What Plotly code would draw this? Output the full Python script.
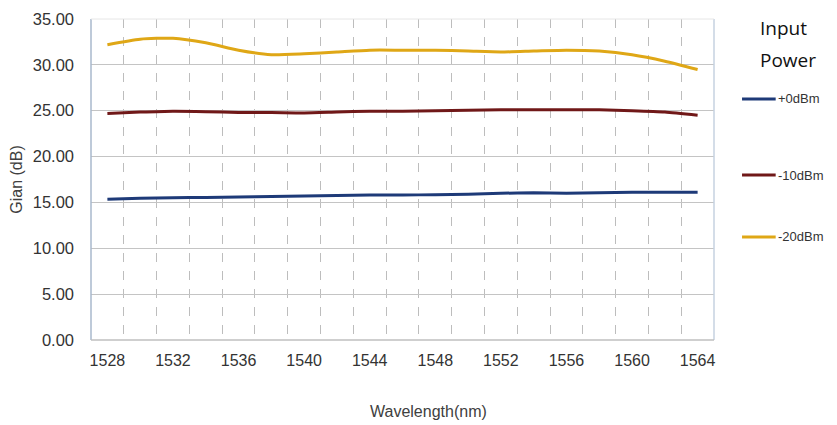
import plotly.graph_objects as go

wavelengths = [1528, 1530, 1532, 1534, 1536, 1538, 1540, 1542, 1544, 1546,
               1548, 1550, 1552, 1554, 1556, 1558, 1560, 1562, 1564]
gain_p0 = [15.35, 15.45, 15.5, 15.55, 15.6, 15.65, 15.7, 15.75, 15.8, 15.8,
           15.85, 15.9, 16.0, 16.05, 16.0, 16.05, 16.1, 16.1, 16.1]
gain_m10 = [24.7, 24.85, 24.95, 24.9, 24.8, 24.8, 24.75, 24.85, 24.95, 24.95,
            25.0, 25.05, 25.1, 25.1, 25.1, 25.1, 25.0, 24.85, 24.5]
gain_m20 = [32.2, 32.8, 32.9, 32.4, 31.6, 31.1, 31.2, 31.4, 31.6, 31.6,
            31.6, 31.5, 31.4, 31.5, 31.6, 31.5, 31.1, 30.4, 29.5]
series_names = ["+0dBm", "-10dBm", "-20dBm"]
series_colors = ["#1E3A78", "#701818", "#DFA716"]
x_tick_vals = [1528, 1532, 1536, 1540, 1544, 1548, 1552, 1556, 1560, 1564]
y_tick_vals = [0, 5, 10, 15, 20, 25, 30, 35]

fig = go.Figure()
for name, vals, col in zip(series_names, [gain_p0, gain_m10, gain_m20], series_colors):
    fig.add_trace(go.Scatter(x=wavelengths, y=vals, mode="lines", name=name,
                             line=dict(color=col, width=3, shape="spline", smoothing=0.6),
                             showlegend=False))

font_main = "Liberation Sans, Arial, sans-serif"
fig.update_layout(
    width=829, height=417,
    margin=dict(l=83, r=123, t=11, b=85),
    paper_bgcolor="white", plot_bgcolor="white",
    font=dict(family=font_main, color="#404040", size=16),
    xaxis=dict(range=[1527, 1565], tickmode="array", tickvals=x_tick_vals,
               ticktext=[str(v) for v in x_tick_vals], showgrid=False,
               showline=False, zeroline=False, ticks="", ticklabelstandoff=9,
               automargin=False,
               tickfont=dict(size=16, color="#333333"),
               minor=dict(tickmode="linear", tick0=1529, dtick=2, showgrid=True,
                          griddash="dash", gridcolor="#BDBDBD", gridwidth=1)),
    yaxis=dict(range=[0, 35], tickmode="array", tickvals=y_tick_vals,
               tickformat=".2f", showgrid=True, gridcolor="#C4C4C4", gridwidth=1,
               zeroline=False, showline=False, ticks="", ticklabelstandoff=16,
               automargin=False,
               tickfont=dict(size=16.5, color="#333333")),
)

# plot-area borders: left/right bluish, top/bottom gray
fig.add_shape(type="line", xref="paper", yref="paper", x0=0, x1=0, y0=0, y1=1,
              line=dict(color="#A8B8CC", width=1.5))
fig.add_shape(type="line", xref="paper", yref="paper", x0=1, x1=1, y0=0, y1=1,
              line=dict(color="#C6D2E0", width=1.5))
fig.add_shape(type="line", xref="paper", yref="paper", x0=0, x1=1, y0=0, y1=0,
              line=dict(color="#BFBFBF", width=1.5))
fig.add_shape(type="line", xref="paper", yref="paper", x0=0, x1=1, y0=1, y1=1,
              line=dict(color="#E6E6E6", width=1))

# axis titles
fig.add_annotation(text="Gian (dB)", xref="paper", yref="paper", x=-0.12, y=0.5,
                   xanchor="center", yanchor="middle",
                   textangle=-90, showarrow=False, font=dict(size=16, color="#404040"))
fig.add_annotation(text="Wavelength(nm)", xref="paper", yref="paper", x=0.541, y=-0.224,
                   xanchor="center", yanchor="middle",
                   showarrow=False, font=dict(size=16, color="#404040"))

# legend (manual)
for word, wy in zip(["Input", "Power"], [0.972, 0.872]):
    fig.add_annotation(text=word, xref="paper", yref="paper", x=1.07, y=wy,
                       xanchor="left", yanchor="middle", showarrow=False,
                       font=dict(family="Open Sans, sans-serif", size=19, color="#111111"))
legend_y = [0.751, 0.514, 0.321]
for name, col, ly in zip(series_names, series_colors, legend_y):
    fig.add_shape(type="line", xref="paper", yref="paper", x0=1.045, x1=1.099,
                  y0=ly, y1=ly, line=dict(color=col, width=3))
    fig.add_annotation(text=name, xref="paper", yref="paper", x=1.1, y=ly,
                       xanchor="left", yanchor="middle", showarrow=False,
                       font=dict(size=13, color="#333333"))

fig.write_html("out.html")
